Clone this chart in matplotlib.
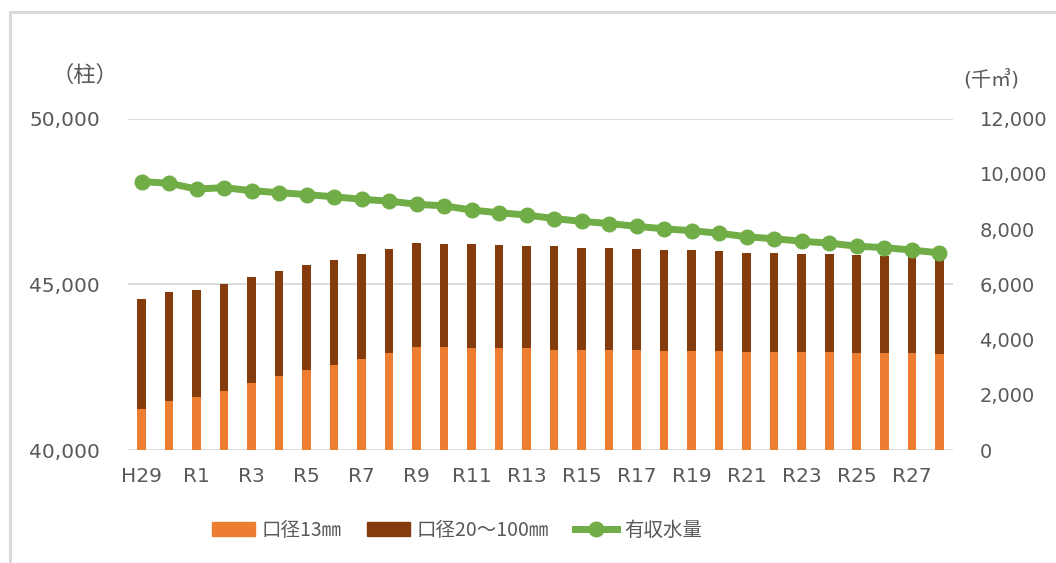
import matplotlib
matplotlib.use("Agg")
import matplotlib.pyplot as plt
from matplotlib.lines import Line2D
from matplotlib.ticker import FuncFormatter

plt.rcParams['font.family'] = ['DejaVu Sans', 'Noto Sans CJK JP']
CJK = ['Noto Sans CJK JP', 'DejaVu Sans']

years = ['H29', 'H30'] + [f'R{i}' for i in range(1, 29)]

# 口径13㎜ (柱)
small = [41250, 41470, 41590, 41770, 42030, 42220, 42400, 42560, 42740, 42930,
         43110, 43110, 43070, 43070, 43070, 43030, 43030, 43030, 43030, 43000,
         43000, 43000, 42960, 42960, 42960, 42960, 42930, 42930, 42930, 42890]
# 口径20～100㎜ (柱)
large = [3320, 3290, 3240, 3250, 3180, 3180, 3180, 3170, 3170, 3130,
         3140, 3110, 3150, 3110, 3080, 3120, 3070, 3070, 3030, 3030,
         3030, 3000, 2990, 2990, 2950, 2950, 2950, 2910, 2900, 2920]
# 有収水量 (千㎥)
revenue_water = [9720, 9660, 9450, 9500, 9390, 9320, 9250, 9170, 9080, 9010,
                 8900, 8840, 8690, 8590, 8510, 8380, 8280, 8200, 8100, 8010,
                 7940, 7850, 7720, 7650, 7560, 7490, 7380, 7330, 7240, 7140]

C_SMALL = '#ED7D31'
C_LARGE = '#843C0C'
C_LINE = '#70AD47'
C_TEXT = '#595959'
C_GRID = '#D9D9D9'
FS = 14.5

fig = plt.figure(figsize=(10.56, 5.63), dpi=100)
ax = fig.add_axes([0.121, 0.2007, 0.7815, 0.5886])

x = list(range(len(years)))
bw = 0.31
ax.bar(x, small, width=bw, color=C_SMALL, zorder=2)
ax.bar(x, large, width=bw, bottom=small, color=C_LARGE, zorder=2)

ax.set_ylim(40000, 50000)
ax.set_yticks([40000, 45000, 50000])
ax.set_xlim(-0.5, len(years) - 0.5)
ax.yaxis.grid(True, color=C_GRID, linewidth=1.3, zorder=0)
ax.set_axisbelow(True)
for s in ax.spines.values():
    s.set_visible(False)
ax.tick_params(axis='both', length=0, colors=C_TEXT, labelsize=FS)
ax.tick_params(axis='y', pad=20)
ax.tick_params(axis='x', pad=12)
ax.set_xticks(x[::2])
ax.set_xticklabels(years[::2])
ax.yaxis.set_major_formatter(FuncFormatter(lambda v, p: f'{int(v):,}'))

ax2 = ax.twinx()
ax2.plot(x, revenue_water, color=C_LINE, linewidth=5, marker='o',
         markersize=10.5, zorder=3)
ax2.set_ylim(0, 12000)
ax2.set_yticks(range(0, 12001, 2000))
ax2.yaxis.set_major_formatter(FuncFormatter(lambda v, p: f'{int(v):,}'))
for s in ax2.spines.values():
    s.set_visible(False)
ax2.tick_params(axis='y', length=0, colors=C_TEXT, labelsize=14, pad=19)

fig.text(0.0805, 0.866, '（柱）', color=C_TEXT, fontsize=16, va='center',
         ha='center', family=CJK)
fig.text(0.912, 0.860, '(千㎥)', color=C_TEXT, fontsize=FS, va='center')

handles = [
    plt.Rectangle((0, 0), 1, 1, color=C_SMALL),
    plt.Rectangle((0, 0), 1, 1, color=C_LARGE),
    Line2D([0], [0], color=C_LINE, linewidth=5, marker='o', markersize=10.5),
]
labels = ['口径13㎜', '口径20～100㎜', '有収水量']
leg = fig.legend(handles, labels, loc='center', bbox_to_anchor=(0.433, 0.0586),
                 ncol=3, frameon=False, prop={'family': CJK, 'size': 14},
                 handlelength=2.2, handleheight=0.7, columnspacing=1.3,
                 handletextpad=0.35)
for t in leg.get_texts():
    t.set_color(C_TEXT)

# outer chart border (top and left edges)
fig.add_artist(Line2D([0.0095, 0.0095], [0.0, 0.979], color=C_GRID,
                      linewidth=2.2, transform=fig.transFigure))
fig.add_artist(Line2D([0.0095, 1.0], [0.979, 0.979], color=C_GRID,
                      linewidth=2.2, transform=fig.transFigure))

fig.savefig('out.png', dpi=100)
